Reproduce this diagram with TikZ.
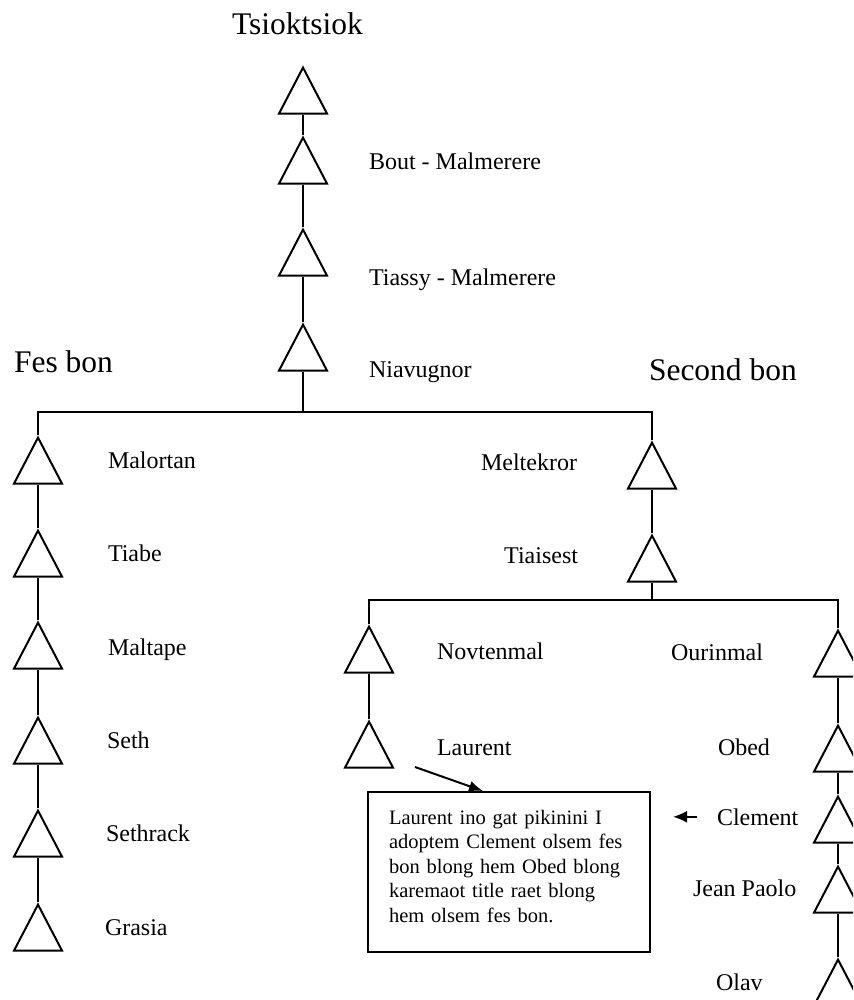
\documentclass[tikz,border=0pt]{standalone}
\usepackage{fontspec}
\setmainfont{Liberation Serif}
\usetikzlibrary{shapes.geometric,arrows.meta}
\tikzset{
  tri/.style={draw, isosceles triangle, isosceles triangle stretches,
    shape border rotate=90, minimum width=48pt, minimum height=46pt,
    inner sep=0pt, anchor=apex},
  lbl/.style={anchor=base west, inner sep=0pt, font=\fontsize{24}{28}\selectfont},
  lblr/.style={anchor=base east, inner sep=0pt, font=\fontsize{24}{28}\selectfont},
  bon/.style={anchor=base west, inner sep=0pt, font=\fontsize{31.5}{36}\selectfont},
}
\begin{document}
\begin{tikzpicture}[x=1pt,y=-1pt,line width=2pt]
      \useasboundingbox (0,0) rectangle (853,1000);
      \clip (0,0) rectangle (853,1000);
      % headings
      \node[bon] (tsk) at (231,35) {Tsioktsiok};
      \node[bon] (fes) at (13,372) {Fes bon};
      \node[bon] (sec) at (648,380) {Second bon};
      % top line
      \node[tri] (t1) at (303,65) {};
      \node[tri] (t2) at (303,135) {};
      \node[tri] (t3) at (303,227) {};
      \node[tri] (t4) at (303,322) {};
      \node[lbl] (bout) at (368,170) {Bout - Malmerere};
      \node[lbl] (tiassy) at (368,285) {Tiassy - Malmerere};
      \node[lbl] (niav) at (368,377) {Niavugnor};
      \coordinate (top) at (303,412);
      \coordinate (fesc) at (38,412);
      \coordinate (secc) at (652,412);
      % fes bon
      \node[tri] (f1) at (38,435) {};
      \node[tri] (f2) at (38,528) {};
      \node[tri] (f3) at (38,620) {};
      \node[tri] (f4) at (38,715) {};
      \node[tri] (f5) at (38,808) {};
      \node[tri] (f6) at (38,902) {};
      \node[lbl] (malortan) at (107,468) {Malortan};
      \node[lbl] (tiabe) at (107,561) {Tiabe};
      \node[lbl] (maltape) at (107,655) {Maltape};
      \node[lbl] (seth) at (106,748) {Seth};
      \node[lbl] (sethrack) at (105,841) {Sethrack};
      \node[lbl] (grasia) at (104,935) {Grasia};
      % second bon
      \node[tri] (s1) at (652,440) {};
      \node[tri] (s2) at (652,533) {};
      \node[lblr] (meltekror) at (578,470) {Meltekror};
      \node[lblr] (tiaisest) at (579,563) {Tiaisest};
      \coordinate (sub) at (652,600);
      \coordinate (novc) at (369,600);
      \coordinate (ourc) at (838,600);
      \node[tri] (n1) at (369,624) {};
      \node[tri] (n2) at (369,719) {};
      \node[lbl] (novtenmal) at (436,659) {Novtenmal};
      \node[lbl] (laurent) at (436,755) {Laurent};
      \node[tri] (o1) at (838,628) {};
      \node[tri] (o2) at (838,723) {};
      \node[tri] (o3) at (838,794) {};
      \node[tri] (o4) at (838,864) {};
      \node[tri] (o5) at (838,957) {};
      \node[lbl] (ourinmal) at (670,660) {Ourinmal};
      \node[lbl] (obed) at (717,755) {Obed};
      \node[lbl] (clement) at (716,825) {Clement};
      \node[lbl] (jean) at (692,896) {Jean Paolo};
      \node[lbl] (olav) at (715,990) {Olav};
      % note
      \node (note) [draw, anchor=north west, inner xsep=21pt, inner ysep=18pt,
        text width=240pt, text depth=110pt, align=left,
        font=\fontsize{20.5}{24.5}\selectfont] at (367,791)
        {Laurent ino gat pikinini I\\ adoptem Clement olsem fes\\ bon blong hem Obed blong\\ karemaot title raet blong\\ hem olsem fes bon.};
      \coordinate (lnote) at (415,767);
      % lines
      \draw (t1.south) -- (t2.apex);
      \draw (t2.south) -- (t3.apex);
      \draw (t3.south) -- (t4.apex);
      \draw (t4.south) -- (top);
      \draw (f1.apex) -- (fesc) -- (secc) -- (s1.apex);
      \draw (f1.south) -- (f2.apex);
      \draw (f2.south) -- (f3.apex);
      \draw (f3.south) -- (f4.apex);
      \draw (f4.south) -- (f5.apex);
      \draw (f5.south) -- (f6.apex);
      \draw (s1.south) -- (s2.apex);
      \draw (s2.south) -- (sub);
      \draw (n1.apex) -- (novc) -- (ourc) -- (o1.apex);
      \draw (n1.south) -- (n2.apex);
      \draw (o1.south) -- (o2.apex);
      \draw (o2.south) -- (o3.apex);
      \draw (o3.south) -- (o4.apex);
      \draw (o4.south) -- (o5.apex);
      \draw [-{Latex[length=14pt,width=11pt]}] (lnote) -- ([xshift=116pt]note.north west);
      \draw [-{Latex[length=14pt,width=12pt]}] ([xshift=-19pt]clement.west) -- ++(-24,0);
\end{tikzpicture}
\end{document}
